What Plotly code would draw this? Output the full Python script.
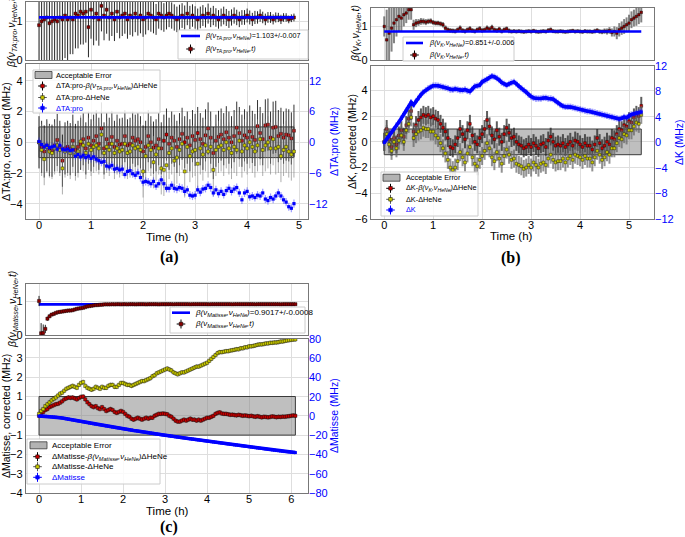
import numpy as np
import plotly.graph_objects as go

W, H = 685, 537
DT = 0.05  # sampling step of the time series (h)
FONT = "Liberation Sans, Arial, sans-serif"

# ===================== (a) TA:pro =====================
ta_beta = [0.9, 1.0, 1.05, 1.1, 0.95, 1.0, 1.05, 1.0, 1.1, 1.05,
           1.15, 1.05, 1.1, 1.05, 1.2, 1.15, 1.25, 1.2, 1.25, 0.85,
           1.3, 1.1, 1.2, 1.05, 1.4, 1.15, 1.3, 1.1, 1.2, 1.05,
           1.25, 1.1, 1.15, 1.2, 1.05, 1.15, 1.1, 1.2, 1.1, 1.15,
           1.05, 1.1, 1.2, 1.15, 1.1, 1.05, 1.2, 1.15, 1.1, 1.15,
           1.2, 1.15, 1.1, 1.05, 1.1, 1.15, 1.1, 1.2, 1.1, 1.15,
           1.1, 1.05, 1.1, 1.15, 1.1, 1.2, 1.1, 1.15, 1.1, 1.05,
           1.1, 1.15, 1.1, 1.05, 1.1, 1.15, 1.1, 1.05, 1.1, 1.1,
           1.15, 1.1, 1.05, 1.1, 1.1, 1.15, 1.1, 1.05, 1.1, 1.1,
           1.05, 1.1, 1.1, 1.05, 1.1, 1.1, 1.05, 1.08, 1.1]
ta_beta_err = [1.2, 1.2, 1.2, 1.2, 1.2, 1.2, 1.2, 1.2, 1.15, 1.15,
               1.1, 1.1, 0.95, 0.9, 0.9, 0.85, 0.85, 0.8, 0.8, 0.78,
               0.75, 0.72, 0.7, 0.68, 0.66, 0.64, 0.62, 0.6, 0.58, 0.56,
               0.55, 0.54, 0.53, 0.52, 0.5, 0.5, 0.49, 0.48, 0.47, 0.46,
               0.45, 0.44, 0.43, 0.42, 0.41, 0.4, 0.39, 0.38, 0.37, 0.36,
               0.35, 0.34, 0.34, 0.33, 0.33, 0.32, 0.31, 0.3, 0.3, 0.29,
               0.29, 0.28, 0.28, 0.27, 0.26, 0.26, 0.25, 0.25, 0.24, 0.24,
               0.23, 0.23, 0.22, 0.22, 0.21, 0.21, 0.2, 0.2, 0.19, 0.19,
               0.18, 0.18, 0.17, 0.17, 0.16, 0.16, 0.15, 0.15, 0.14, 0.14,
               0.13, 0.13, 0.12, 0.12, 0.11, 0.11, 0.1, 0.1, 0.1]
ta_corrected = [0.0, -0.3, -0.6, -0.2, -0.5, -0.55, -0.2, 0.15, -0.3, -1.2,
                -0.4, -0.3, -0.45, 0.1, -0.5, -0.3, -0.1, 0.2, -0.4, 0.3,
                -0.2, 0.1, 0.4, -0.1, 0.9, -0.4, 0.2, -0.1, 0.35, -0.3,
                0.1, -0.15, -0.1, 0.4, -0.2, -0.1, 0.3, 0.1, 0.2, 0.0,
                -0.6, -0.3, 0.4, 0.0, -0.35, -0.2, 0.2, -0.4, 0.1, 0.5,
                -0.1, 0.3, 0.1, -0.3, 0.2, 0.55, 0.0, 0.3, -0.2, 0.4,
                0.15, 0.6, 0.2, -0.1, 0.45, 0.9, 0.3, -0.7, 0.1, 0.35,
                0.5, 0.2, 0.65, 0.3, 0.0, 0.4, 0.95, 0.6, 0.1, 0.45,
                0.3, 0.7, 0.35, 0.15, 1.05, 0.6, 0.2, 1.1, 1.15, 0.3,
                0.95, 1.0, 0.4, 0.55, 0.3, 0.5, 0.45, 0.25, 0.75]
ta_hene_only = [0.0, -0.5, -1.1, -0.3, -0.6, -0.7, -0.4, -0.2, -0.5, -1.7,
                -0.6, -0.5, -0.7, -0.3, -0.8, -0.6, 0.05, -0.2, -0.7, -0.1,
                -0.5, -0.3, -0.2, -0.4, 0.5, -0.7, -0.3, -0.5, -0.1, -0.7,
                -0.4, -0.6, -0.5, -0.1, -0.7, -0.6, -0.2, -0.4, -0.3, -0.5,
                -1.9, -0.9, -0.2, -0.5, -1.3, -0.8, -0.4, -1.7, -1.8, -1.5,
                -0.7, -0.4, -1.2, -1.0, -0.5, -0.1, -1.9, -0.3, -0.9, -0.6,
                -0.5, -1.4, -0.4, -0.8, -0.2, -0.6, -0.3, -1.8, -0.5, -0.3,
                -0.2, -0.5, 0.0, -0.4, -0.7, -0.3, -0.5, 0.1, -0.6, -0.2,
                -0.4, 0.0, -0.3, -0.6, -0.2, 0.2, -0.5, -0.2, 0.0, -0.4,
                0.2, -0.4, -0.3, -0.9, -0.5, -0.3, -0.6, -0.8, -0.6]
ta_raw = [0.15, -0.45, -0.9, -0.6, -1.05, -0.9, -0.75, -1.35, -0.6, -1.35,
          -1.5, -1.35, -1.65, -1.5, -2.7, -2.4, -2.85, -2.55, -3.0, -2.7,
          -3.15, -2.85, -3.3, -3.6, -3.9, -3.75, -4.65, -4.8, -4.5, -5.25,
          -5.1, -5.4, -5.25, -6.3, -5.7, -5.55, -6.15, -6.45, -6.0, -6.9,
          -7.8, -7.65, -7.8, -8.1, -7.65, -8.55, -8.1, -7.35, -8.1, -9.0,
          -9.0, -8.4, -9.0, -9.15, -8.85, -9.0, -9.6, -9.3, -10.35, -10.5,
          -10.35, -9.3, -9.75, -9.15, -9.0, -8.4, -8.85, -9.9, -9.3, -10.05,
          -9.6, -10.2, -9.45, -9.0, -9.6, -9.15, -8.85, -9.9, -11.25, -9.9,
          -9.6, -10.65, -10.5, -10.8, -10.35, -10.5, -9.9, -11.1, -11.4, -10.8,
          -11.1, -10.5, -9.9, -10.5, -11.25, -11.7, -12.6, -12.9, -12.0]
TA_BETA_FIT, TA_BETA_FIT_ERR = 1.103, 0.007
TA_POINT_ERR, TA_RAW_ERR = 1.7, 0.8

# ===================== (b) K =====================
k_beta = [1.0, 0.6, 0.8, 0.95, 1.1, 1.2, 1.3, 1.25, 1.35, 1.4,
          1.5, 1.5, 1.05, 1.1, 1.12, 1.15, 1.15, 1.13, 1.15, 1.16,
          1.12, 1.1, 1.1, 1.08, 1.05, 0.95, 0.9, 0.88, 0.87, 0.86,
          0.9, 0.95, 0.88, 0.86, 0.9, 0.93, 0.88, 0.86, 0.9, 0.93,
          0.88, 0.9, 0.95, 0.92, 0.97, 0.9, 0.88, 0.92, 0.86, 0.9,
          0.93, 0.87, 0.85, 0.86, 0.85, 0.86, 0.85, 0.84, 0.85, 0.86,
          0.85, 0.87, 0.85, 0.84, 0.85, 0.86, 0.85, 0.88, 0.9, 0.86,
          0.85, 0.85, 0.86, 0.85, 0.84, 0.85, 0.86, 0.87, 0.85, 0.86,
          0.85, 0.84, 0.86, 0.85, 0.85, 0.84, 0.86, 0.88, 0.85, 0.84,
          0.86, 0.85, 0.88, 0.82, 0.85, 0.8, 0.9, 0.95, 1.0, 1.05,
          1.1, 1.2, 1.25, 1.3, 1.35, 1.42]
k_beta_err = [0.3, 0.9, 0.8, 0.7, 0.6, 0.5, 0.45, 0.4, 0.35, 0.3,
              0.3, 0.3, 0.15, 0.12, 0.1, 0.1, 0.09, 0.09, 0.08, 0.08,
              0.07, 0.07, 0.07, 0.07, 0.08, 0.08, 0.07, 0.07, 0.07, 0.07,
              0.07, 0.08, 0.07, 0.07, 0.07, 0.08, 0.07, 0.07, 0.07, 0.08,
              0.07, 0.07, 0.08, 0.07, 0.08, 0.07, 0.07, 0.07, 0.07, 0.07,
              0.07, 0.07, 0.06, 0.06, 0.06, 0.06, 0.06, 0.06, 0.06, 0.06,
              0.06, 0.06, 0.06, 0.06, 0.06, 0.06, 0.06, 0.07, 0.07, 0.06,
              0.06, 0.06, 0.06, 0.06, 0.06, 0.06, 0.06, 0.06, 0.06, 0.06,
              0.06, 0.06, 0.06, 0.06, 0.06, 0.06, 0.07, 0.07, 0.07, 0.07,
              0.08, 0.09, 0.1, 0.12, 0.15, 0.18, 0.2, 0.2, 0.22, 0.22,
              0.25, 0.25, 0.25, 0.28, 0.28, 0.3]
k_corrected = [0.0, 1.0, 0.2, -0.4, 0.3, -0.2, 0.5, 0.9, 0.4, 1.3,
               1.8, 2.4, 0.8, 1.3, 1.7, 1.9, 2.1, 2.0, 2.1, 1.9,
               2.0, 1.8, 1.7, 1.4, 1.1, 0.8, 0.3, -0.4, -0.5, -0.2,
               0.3, 1.0, 0.6, 0.2, 0.9, 1.4, 0.5, 0.0, -0.2, 0.3,
               0.6, 1.0, 1.7, 1.2, 0.5, 0.2, 0.9, 0.4, 0.0, 0.6,
               1.1, 0.7, 0.3, 0.4, 0.0, -0.2, -0.3, -0.5, -0.4, -0.2,
               -0.4, -0.1, -0.3, -0.5, -0.2, -0.1, -0.4, 0.1, 0.4, 0.0,
               -0.3, -0.2, -0.3, -0.1, -0.4, -0.2, 0.0, -0.3, 0.1, 0.0,
               -0.2, -0.4, -0.1, -0.3, -0.3, -0.6, -0.2, 0.3, -0.1, -0.5,
               -0.3, 0.0, -0.2, 0.3, 0.2, 0.6, 1.0, 0.9, 1.3, 1.2,
               1.6, 1.5, 1.9, 2.1, 2.0, 2.8]
k_hene_only = [0.0, 0.6, -0.2, -0.7, 0.0, -0.5, 0.1, 0.5, 0.0, 0.9,
               1.4, 1.9, 0.3, 0.6, 0.8, 0.9, 1.1, 1.0, 1.0, 0.8,
               0.8, 0.5, 0.3, -0.1, -0.5, -0.9, -1.4, -2.0, -2.2, -2.0,
               -1.5, -0.8, -1.2, -1.6, -0.9, -0.4, -1.2, -1.7, -1.9, -1.4,
               -1.1, -0.7, -0.1, -0.5, -1.2, -1.5, -0.8, -1.3, -1.7, -1.1,
               -0.6, -1.0, -1.4, -1.3, -1.7, -1.8, -1.9, -2.1, -2.0, -1.8,
               -2.0, -1.6, -1.8, -2.0, -1.7, -1.6, -1.8, -1.3, -1.0, -1.4,
               -1.6, -1.5, -1.5, -1.3, -1.6, -1.3, -1.1, -1.4, -1.0, -1.1,
               -1.2, -1.4, -1.1, -1.3, -1.3, -1.6, -1.2, -0.7, -1.0, -1.4,
               -1.2, -0.8, -1.0, -0.5, -0.5, -0.1, 0.3, 0.2, 0.6, 0.5,
               0.9, 0.9, 1.2, 1.5, 1.4, 2.1]
k_raw = [0.0, 0.5, 1.0, 1.6, 2.1, 2.7, 3.2, 3.8, 4.4, 5.0,
         5.6, 6.3, 5.9, 6.5, 7.0, 7.5, 7.9, 8.2, 8.5, 8.7,
         8.9, 8.95, 8.9, 8.8, 8.7, 8.6, 8.5, 8.3, 8.3, 8.4,
         8.3, 8.2, 8.2, 8.3, 8.1, 8.0, 8.4, 8.8, 8.9, 9.0,
         9.5, 9.7, 9.9, 10.2, 10.4, 10.3, 10.1, 9.8, 9.4, 9.2,
         9.0, 9.2, 9.4, 9.5, 9.2, 8.8, 8.5, 8.2, 7.9, 7.5,
         7.2, 7.0, 6.9, 6.9, 6.9, 7.0, 7.0, 6.9, 6.9, 6.8,
         6.5, 6.2, 5.9, 5.7, 5.6, 5.6, 5.6, 5.5, 5.4, 5.3,
         5.2, 5.1, 5.0, 4.9, 4.9, 4.8, 4.7, 4.6, 4.5, 4.4,
         4.3, 4.2, 4.1, 4.0, 3.9, 3.8, 3.7, 3.8, 4.0, 3.9,
         4.2, 4.4, 4.5, 4.6, 4.7, 4.8]
K_BETA_FIT, K_BETA_FIT_ERR = 0.851, 0.006
K_POINT_ERR, K_RAW_ERR = 0.7, 0.5

# ===================== (c) Matisse =====================
m_beta = [1.0, 0.05, 0.06, 0.18, 0.48, 0.55, 0.6, 0.62, 0.65, 0.67,
          0.68, 0.69, 0.7, 0.71, 0.72, 0.72, 0.73, 0.75, 0.77, 0.78,
          0.79, 0.8, 0.82, 0.84, 0.85, 0.86, 0.87, 0.88, 0.88, 0.89,
          0.89, 0.9, 0.9, 0.9, 0.9, 0.905, 0.9, 0.905, 0.905, 0.9,
          0.905, 0.905, 0.9, 0.905, 0.905, 0.905, 0.9, 0.905, 0.905, 0.905,
          0.905, 0.9, 0.905, 0.905, 0.905, 0.905, 0.905, 0.9, 0.905, 0.905,
          0.905, 0.905, 0.905, 0.905, 0.9, 0.905, 0.905, 0.905, 0.905, 0.905,
          0.905, 0.905, 0.9, 0.905, 0.905, 0.905, 0.905, 0.905, 0.905, 0.905,
          0.905, 0.9, 0.905, 0.905, 0.905, 0.905, 0.905, 0.905, 0.905, 0.905,
          0.905, 0.905, 0.9, 0.905, 0.905, 0.905, 0.905, 0.905, 0.905, 0.905,
          0.905, 0.905, 0.905, 0.9, 0.905, 0.905, 0.905, 0.905, 0.905, 0.905,
          0.905, 0.905, 0.905, 0.905, 0.905, 0.9, 0.905, 0.905, 0.905, 0.905,
          0.905, 0.905, 0.905]
m_beta_err = [0.15, 0.3, 0.25, 0.12, 0.06, 0.05, 0.04, 0.04, 0.03, 0.03,
              0.03, 0.03, 0.025, 0.025, 0.025, 0.02, 0.02, 0.02, 0.02, 0.02,
              0.02, 0.02, 0.02, 0.02, 0.02, 0.02, 0.02, 0.02, 0.02, 0.02,
              0.02, 0.02, 0.02, 0.02, 0.02, 0.02, 0.02, 0.02, 0.02, 0.02,
              0.02, 0.02, 0.02, 0.02, 0.02, 0.02, 0.02, 0.02, 0.02, 0.02,
              0.02, 0.02, 0.02, 0.02, 0.02, 0.02, 0.02, 0.02, 0.02, 0.02,
              0.02, 0.02, 0.02, 0.02, 0.02, 0.02, 0.02, 0.02, 0.02, 0.02,
              0.02, 0.02, 0.02, 0.02, 0.02, 0.02, 0.02, 0.02, 0.02, 0.02,
              0.02, 0.02, 0.02, 0.02, 0.02, 0.02, 0.02, 0.02, 0.02, 0.02,
              0.02, 0.02, 0.02, 0.02, 0.02, 0.02, 0.02, 0.02, 0.02, 0.02,
              0.02, 0.02, 0.02, 0.02, 0.02, 0.02, 0.02, 0.02, 0.02, 0.02,
              0.02, 0.02, 0.02, 0.02, 0.02, 0.02, 0.02, 0.02, 0.02, 0.02,
              0.02, 0.02, 0.02]
m_corrected = [0.0, 0.1, 0.2, 0.3, 0.35, 0.45, 0.5, 0.55, 0.6, 0.62,
               0.68, 0.75, 0.85, 0.9, 0.95, 0.93, 0.95, 0.9, 0.85, 0.92,
               0.98, 1.0, 0.85, 0.7, 0.6, 0.5, 0.45, 0.5, 0.4, 0.35,
               0.45, 0.35, 0.25, 0.3, 0.35, 0.3, 0.2, 0.15, 0.2, 0.25,
               0.2, 0.1, 0.0, -0.05, -0.15, -0.2, -0.15, -0.1, -0.15, -0.2,
               -0.15, -0.1, -0.15, -0.1, -0.1, 0.0, 0.05, 0.1, 0.1, 0.12,
               0.1, 0.08, 0.0, -0.05, -0.15, -0.25, -0.3, -0.3, -0.25, -0.2,
               -0.25, -0.2, -0.15, -0.2, -0.2, -0.25, -0.2, -0.25, -0.2, -0.15,
               -0.1, -0.1, -0.05, 0.0, 0.1, 0.15, 0.18, 0.12, 0.1, 0.1,
               0.08, 0.05, 0.06, 0.04, 0.02, 0.05, 0.03, 0.0, 0.02, 0.0,
               -0.02, 0.0, -0.03, -0.05, -0.02, -0.05, -0.08, -0.05, -0.06, -0.08,
               -0.06, -0.03, -0.05, -0.07, -0.05, -0.06, -0.04, -0.05, -0.03, -0.02,
               0.0, 0.02, 0.0]
m_hene_only = [0.1, 0.25, 0.35, 0.5, 0.6, 0.7, 0.8, 0.88, 0.95, 1.05,
               1.15, 1.2, 1.3, 1.4, 1.45, 1.5, 1.55, 1.5, 1.45, 1.6,
               1.7, 1.75, 1.55, 1.45, 1.4, 1.35, 1.4, 1.5, 1.45, 1.4,
               1.5, 1.45, 1.45, 1.55, 1.6, 1.6, 1.5, 1.5, 1.6, 1.7,
               1.7, 1.65, 1.6, 1.6, 1.55, 1.6, 1.65, 1.7, 1.75, 1.8,
               1.8, 1.85, 1.9, 1.95, 2.05, 2.1, 2.2, 2.25, 2.3, 2.35,
               2.4, 2.45, 2.4, 2.35, 2.25, 2.2, 2.15, 2.2, 2.25, 2.25,
               2.3, 2.35, 2.4, 2.45, 2.5, 2.55, 2.55, 2.6, 2.65, 2.7,
               2.75, 2.85, 2.95, 3.05, 3.15, 3.25, 3.3, 3.3, 3.32, 3.35,
               3.35, 3.38, 3.4, 3.42, 3.45, 3.45, 3.5, 3.5, 3.55, 3.55,
               3.6, 3.6, 3.62, 3.65, 3.68, 3.7, 3.7, 3.72, 3.75, 3.75,
               3.78, 3.78, 3.8, 3.8, 3.82, 3.85, 3.85, 3.88, 3.9, 3.92,
               3.94, 3.95, 3.96]
m_raw = [0.0, -0.1, -0.2, -0.3, -0.4, -0.6, -0.8, -1.0, -1.2, -1.5,
         -1.8, -2.1, -2.5, -2.9, -3.3, -3.7, -4.1, -4.5, -4.9, -5.3,
         -5.7, -6.1, -6.5, -6.9, -7.3, -7.7, -8.1, -8.5, -8.9, -9.2,
         -9.6, -10.0, -10.4, -10.7, -11.1, -11.5, -11.8, -12.2, -12.5, -12.9,
         -13.2, -13.6, -13.9, -14.3, -14.6, -15.0, -15.3, -15.7, -16.0, -16.4,
         -16.7, -17.0, -17.4, -17.7, -18.0, -18.4, -18.7, -19.0, -19.4, -19.7,
         -20.0, -20.3, -20.7, -21.0, -21.3, -21.6, -21.9, -22.2, -22.5, -22.8,
         -23.1, -23.4, -23.7, -24.0, -24.3, -24.6, -24.9, -25.2, -25.5, -25.8,
         -26.1, -26.4, -26.7, -27.0, -27.3, -27.6, -27.9, -28.2, -28.5, -28.8,
         -29.1, -29.4, -29.7, -30.0, -30.2, -30.5, -30.8, -31.1, -31.4, -31.7,
         -32.0, -32.3, -32.6, -32.9, -33.2, -33.5, -33.8, -34.1, -34.4, -34.7,
         -35.0, -35.3, -35.6, -35.9, -36.1, -36.4, -36.7, -37.0, -37.2, -37.4,
         -37.6, -37.8, -38.0]
M_BETA_FIT, M_BETA_FIT_ERR = 0.9017, 0.0008
M_POINT_ERR, M_RAW_ERR = 0.12, 0.4

ACCEPTABLE_ERROR = 1.0  # MHz


def times(*series):
    n = min(len(s) for s in series)
    return np.round(np.arange(n) * DT, 2), n


# ---------------------------------------------------------------
fig = go.Figure()


def add_panel(ax, t, n, beta, beta_err, fit, corr, hene, raw, perr, rerr, st):
    xt, yt, xb, yb, yr = ax
    tend = float(t[-1])
    line = go.Scatter(x=[0, tend], y=[fit, fit], mode="lines",
                      line=dict(color="#0000ff", width=2.6), xaxis=xt, yaxis=yt,
                      hoverinfo="skip")
    pts = go.Scatter(x=t, y=beta[:n], mode="markers", xaxis=xt, yaxis=yt,
                     marker=dict(symbol="square", size=st["bsize"], color="#8b0000",
                                 line=dict(color="black", width=0.4)),
                     error_y=dict(type="data", array=beta_err[:n], color=st["becol"],
                                  thickness=st["bthick"], width=0),
                     hoverinfo="skip")
    if st["line_on_top"]:
        fig.add_trace(pts); fig.add_trace(line)
    else:
        fig.add_trace(line); fig.add_trace(pts)
    A = ACCEPTABLE_ERROR
    fig.add_trace(go.Scatter(x=[0, tend, tend, 0, 0], y=[-A, -A, A, A, -A],
                             fill="toself", fillcolor="rgba(128,128,128,0.5)",
                             line=dict(color="#3a3a3a", width=1), mode="lines",
                             xaxis=xb, yaxis=yb, hoverinfo="skip"))
    fig.add_trace(go.Scatter(x=t, y=corr[:n], mode="markers", xaxis=xb, yaxis=yb,
                             marker=dict(symbol="square", size=st["psize"], color="#c80000",
                                         line=dict(color="black", width=0.4)),
                             error_y=dict(type="constant", value=perr, color=st["recol"],
                                          thickness=st["pthick"], width=0),
                             hoverinfo="skip"))
    fig.add_trace(go.Scatter(x=t, y=hene[:n], mode="markers", xaxis=xb, yaxis=yb,
                             marker=dict(symbol="square", size=st["psize"], color="#cccc00",
                                         line=dict(color="black", width=0.4)),
                             error_y=dict(type="constant", value=perr, color=st["yecol"],
                                          thickness=st["pthick"], width=0),
                             hoverinfo="skip"))
    fig.add_trace(go.Scatter(x=t, y=raw[:n], mode=st["rmode"], xaxis=xb, yaxis=yr,
                             line=dict(color="#0000ff", width=st["rline"]),
                             marker=dict(symbol="square", size=st["rsize"], color="#0000ff",
                                         line=dict(width=0)),
                             error_y=dict(type="constant", value=rerr,
                                          color="rgba(40,40,255,0.45)",
                                          thickness=st["rthick"], width=0),
                             hoverinfo="skip"))


t_a, n_a = times(ta_beta, ta_beta_err, ta_corrected, ta_hene_only, ta_raw)
t_b, n_b = times(k_beta, k_beta_err, k_corrected, k_hene_only, k_raw)
t_c, n_c = times(m_beta, m_beta_err, m_corrected, m_hene_only, m_raw)

add_panel(("x", "y", "x2", "y2", "y3"), t_a, n_a, ta_beta, ta_beta_err, TA_BETA_FIT,
          ta_corrected, ta_hene_only, ta_raw, TA_POINT_ERR, TA_RAW_ERR,
          dict(bsize=3, becol="rgba(0,0,0,0.85)", bthick=1, line_on_top=True,
               psize=3, recol="rgba(0,0,0,0.8)", yecol="rgba(120,120,120,0.6)", pthick=1,
               rsize=3.2, rthick=1.2, rmode="markers", rline=0))
add_panel(("x3", "y4", "x4", "y5", "y6"), t_b, n_b, k_beta, k_beta_err, K_BETA_FIT,
          k_corrected, k_hene_only, k_raw, K_POINT_ERR, K_RAW_ERR,
          dict(bsize=2.5, becol="rgba(90,90,90,0.75)", bthick=2, line_on_top=True,
               psize=2.8, recol="rgba(40,40,40,0.75)", yecol="rgba(100,100,100,0.7)", pthick=2,
               rsize=3, rthick=2, rmode="lines+markers", rline=3.5))
add_panel(("x5", "y7", "x6", "y8", "y9"), t_c, n_c, m_beta, m_beta_err, M_BETA_FIT,
          m_corrected, m_hene_only, m_raw, M_POINT_ERR, M_RAW_ERR,
          dict(bsize=3.2, becol="rgba(0,0,0,0.85)", bthick=1, line_on_top=False,
               psize=3.2, recol="rgba(60,60,60,0.8)", yecol="rgba(90,90,90,0.8)", pthick=1,
               rsize=3, rthick=1, rmode="lines+markers", rline=3.5))


# ---------------- axes ----------------
def dx(a, b):
    return [a / W, b / W]


def dy(top, bottom):
    return [1 - bottom / H, 1 - top / H]


base = dict(showgrid=True, gridcolor="#dedede", gridwidth=1, showline=True, mirror=True,
            linecolor="#777777", linewidth=1.2, zeroline=False, ticks="",
            tickfont=dict(family=FONT, size=11, color="black"), automargin=False)
xbase = dict(base, ticklabelstandoff=-4)
right = dict(showgrid=False, showline=False, zeroline=False, ticks="",
             tickfont=dict(family=FONT, size=11, color="#0000ff"), automargin=False,
             side="right")

lay = {}
# (a)
lay["xaxis"] = dict(xbase, domain=dx(26, 308), anchor="y", range=[-0.25, 5.17], dtick=1,
                    showticklabels=False)
lay["xaxis2"] = dict(xbase, domain=dx(26, 308), anchor="y2", range=[-0.25, 5.17], dtick=1)
lay["yaxis"] = dict(base, domain=dy(2, 60), anchor="x", range=[0, 1.5], dtick=1)
lay["yaxis2"] = dict(base, domain=dy(64, 219), anchor="x2", range=[-5, 5.1], dtick=2)
lay["yaxis3"] = dict(right, overlaying="y2", anchor="x2", range=[-15, 15.3], dtick=6)
# (b)
lay["xaxis3"] = dict(xbase, domain=dx(371, 654), anchor="y4", range=[-0.27, 5.51], dtick=1,
                     showticklabels=False)
lay["xaxis4"] = dict(xbase, domain=dx(371, 654), anchor="y5", range=[-0.27, 5.51], dtick=1)
lay["yaxis4"] = dict(base, domain=dy(8, 60), anchor="x3", range=[0, 1.55], dtick=1)
lay["yaxis5"] = dict(base, domain=dy(66, 219), anchor="x4", range=[-6, 5.9], dtick=2)
lay["yaxis6"] = dict(right, overlaying="y5", anchor="x4", range=[-12, 12], dtick=4)
# (c)
lay["xaxis5"] = dict(xbase, domain=dx(26, 308), anchor="y7", range=[-0.31, 6.4], dtick=1,
                     showticklabels=False)
lay["xaxis6"] = dict(xbase, domain=dx(26, 308), anchor="y8", range=[-0.31, 6.4], dtick=1)
lay["yaxis7"] = dict(base, domain=dy(284, 335), anchor="x5", range=[0, 1.5], dtick=1)
lay["yaxis8"] = dict(base, domain=dy(339, 493), anchor="x6", range=[-4, 3.98], dtick=1)
lay["yaxis9"] = dict(right, overlaying="y8", anchor="x6", range=[-80, 80], dtick=20)

# ---------------- text & legends ----------------
shapes, anns = [], []


def P(x, y):
    return x / W, 1 - y / H


def text(x, y, s, size, color="black", xanchor="left", angle=0, family=FONT):
    px_, py_ = P(x, y)
    anns.append(dict(x=px_, y=py_, xref="paper", yref="paper", text=s, showarrow=False,
                     xanchor=xanchor, yanchor="middle", textangle=angle,
                     font=dict(family=family, size=size, color=color)))


def rect(x0, y0, x1, y1, fill, lc, lw):
    a, b = P(x0, y1)
    c, d = P(x1, y0)
    shapes.append(dict(type="rect", xref="paper", yref="paper", x0=a, y0=b, x1=c, y1=d,
                       fillcolor=fill, line=dict(color=lc, width=lw), layer="above"))


def seg(x0, y0, x1, y1, color, lw):
    a, b = P(x0, y0)
    c, d = P(x1, y1)
    shapes.append(dict(type="line", xref="paper", yref="paper", x0=a, y0=b, x1=c, y1=d,
                       line=dict(color=color, width=lw), layer="above"))


def cross(cx, cy, mcol, ecol):
    seg(cx, cy - 4.5, cx, cy + 4.5, ecol, 1)
    seg(cx - 4.3, cy, cx + 4.3, cy, ecol, 1)
    rect(cx - 1.8, cy - 1.8, cx + 1.8, cy + 1.8, mcol, "black" if mcol != "#0000ff" else mcol, 0.5)


def legend_top(box, lx0, lx1, cy1, cy2, tx, fs, l1, l2):
    rect(*box, "rgba(255,255,255,0.85)", "#cccccc", 1)
    seg(lx0, cy1, lx1, cy1, "#0000ff", 2.6)
    cross((lx0 + lx1) / 2, cy2, "#8b0000", "black")
    text(tx, cy1, l1, fs)
    text(tx, cy2, l2, fs)


def legend_bottom(box, sx0, sx1, cys, tx, fs, labels):
    rect(*box, "rgba(255,255,255,0.85)", "#cccccc", 1)
    rect(sx0, cys[0] - 3.5, sx1, cys[0] + 3.5, "rgba(128,128,128,0.6)", "#3a3a3a", 0.8)
    cx = (sx0 + sx1) / 2 - 1
    cross(cx, cys[1], "#c80000", "black")
    cross(cx, cys[2], "#cccc00", "#555555")
    cross(cx, cys[3], "#0000ff", "#0000ff")
    for cy, lab in zip(cys, labels):
        text(tx, cy, lab, fs)


def beta_txt(sub, extra=""):
    return "<i>β(ν<sub>%s</sub>,ν<sub>HeNe</sub>%s)</i>" % (sub, extra)


# (a)
legend_top((178, 30, 308, 59), 181, 200, 36, 49, 203, 7.2,
           beta_txt("TA:pro") + "=%s+/-%s" % (TA_BETA_FIT, TA_BETA_FIT_ERR),
           beta_txt("TA:pro", ",t"))
legend_bottom((33, 70, 160, 113), 35, 52, [75, 86, 97.5, 108], 54, 7.5,
              ["Acceptable Error", "ΔTA:pro-" + beta_txt("TA:pro") + "ΔHeNe",
               "ΔTA:pro-ΔHeNe", '<span style="color:#0000ff">ΔTA:pro</span>'])
# (b)
legend_top((403, 37, 514, 61), 406, 423, 43, 55, 427, 7.3,
           beta_txt("K") + "=%s+/-%s" % (K_BETA_FIT, K_BETA_FIT_ERR),
           beta_txt("K", ",t"))
legend_bottom((381, 172, 478, 216), 383, 400, [177.7, 188.3, 199.3, 210], 404, 7.3,
              ["Acceptable Error", "ΔK-" + beta_txt("K") + "ΔHeNe",
               "ΔK-ΔHeNe", '<span style="color:#0000ff">ΔK</span>'])
# (c)
legend_top((170, 307, 305, 333), 172, 190, 312.7, 324, 193, 8,
           beta_txt("Matisse") + "=%s+/-%s" % (M_BETA_FIT, M_BETA_FIT_ERR),
           beta_txt("Matisse", ",t"))
legend_bottom((27, 439, 160, 484), 30, 47, [445.3, 456.7, 466.7, 477.3], 50, 8,
              ["Acceptable Error", "ΔMatisse-" + beta_txt("Matisse") + "ΔHeNe",
               "ΔMatisse-ΔHeNe", '<span style="color:#0000ff">ΔMatisse</span>'])

# axis titles
AT = 10.5
SERIF = "Liberation Serif, Times New Roman, serif"
text(12, 31, beta_txt("TA:pro", ",t"), AT, xanchor="center", angle=-90)
text(6, 142, "ΔTA:pro, corrected (MHz)", AT, xanchor="center", angle=-90)
text(334, 142, "ΔTA:pro (MHz)", AT, color="#0000ff", xanchor="center", angle=-90)
text(167, 237, "Time (h)", 11.5, xanchor="center")
text(169, 257, "<b>(a)</b>", 16, xanchor="center", family=SERIF)

text(356, 34, beta_txt("K", ",t"), AT, xanchor="center", angle=-90)
text(352, 142, "ΔK, corrected (MHz)", AT, xanchor="center", angle=-90)
text(679, 142, "ΔK (MHz)", AT, color="#0000ff", xanchor="center", angle=-90)
text(512, 236, "Time (h)", 11.5, xanchor="center")
text(511, 258, "<b>(b)</b>", 16, xanchor="center", family=SERIF)

text(13, 310, beta_txt("Matisse", ",t"), AT, xanchor="center", angle=-90)
text(6, 416, "ΔMatisse, corrected (MHz)", AT, xanchor="center", angle=-90)
text(334, 416, "ΔMatisse (MHz)", AT, color="#0000ff", xanchor="center", angle=-90)
text(167, 511, "Time (h)", 11.5, xanchor="center")
text(169, 527, "<b>(c)</b>", 16, xanchor="center", family=SERIF)

fig.update_layout(width=W, height=H, margin=dict(l=0, r=0, t=0, b=0),
                  paper_bgcolor="white", plot_bgcolor="white", showlegend=False,
                  font=dict(family=FONT), shapes=shapes, annotations=anns, **lay)

fig.write_html("out.html", config={"displayModeBar": False, "staticPlot": True},
               post_script="document.body.style.margin='0';"
                           "document.body.style.overflow='hidden';")
